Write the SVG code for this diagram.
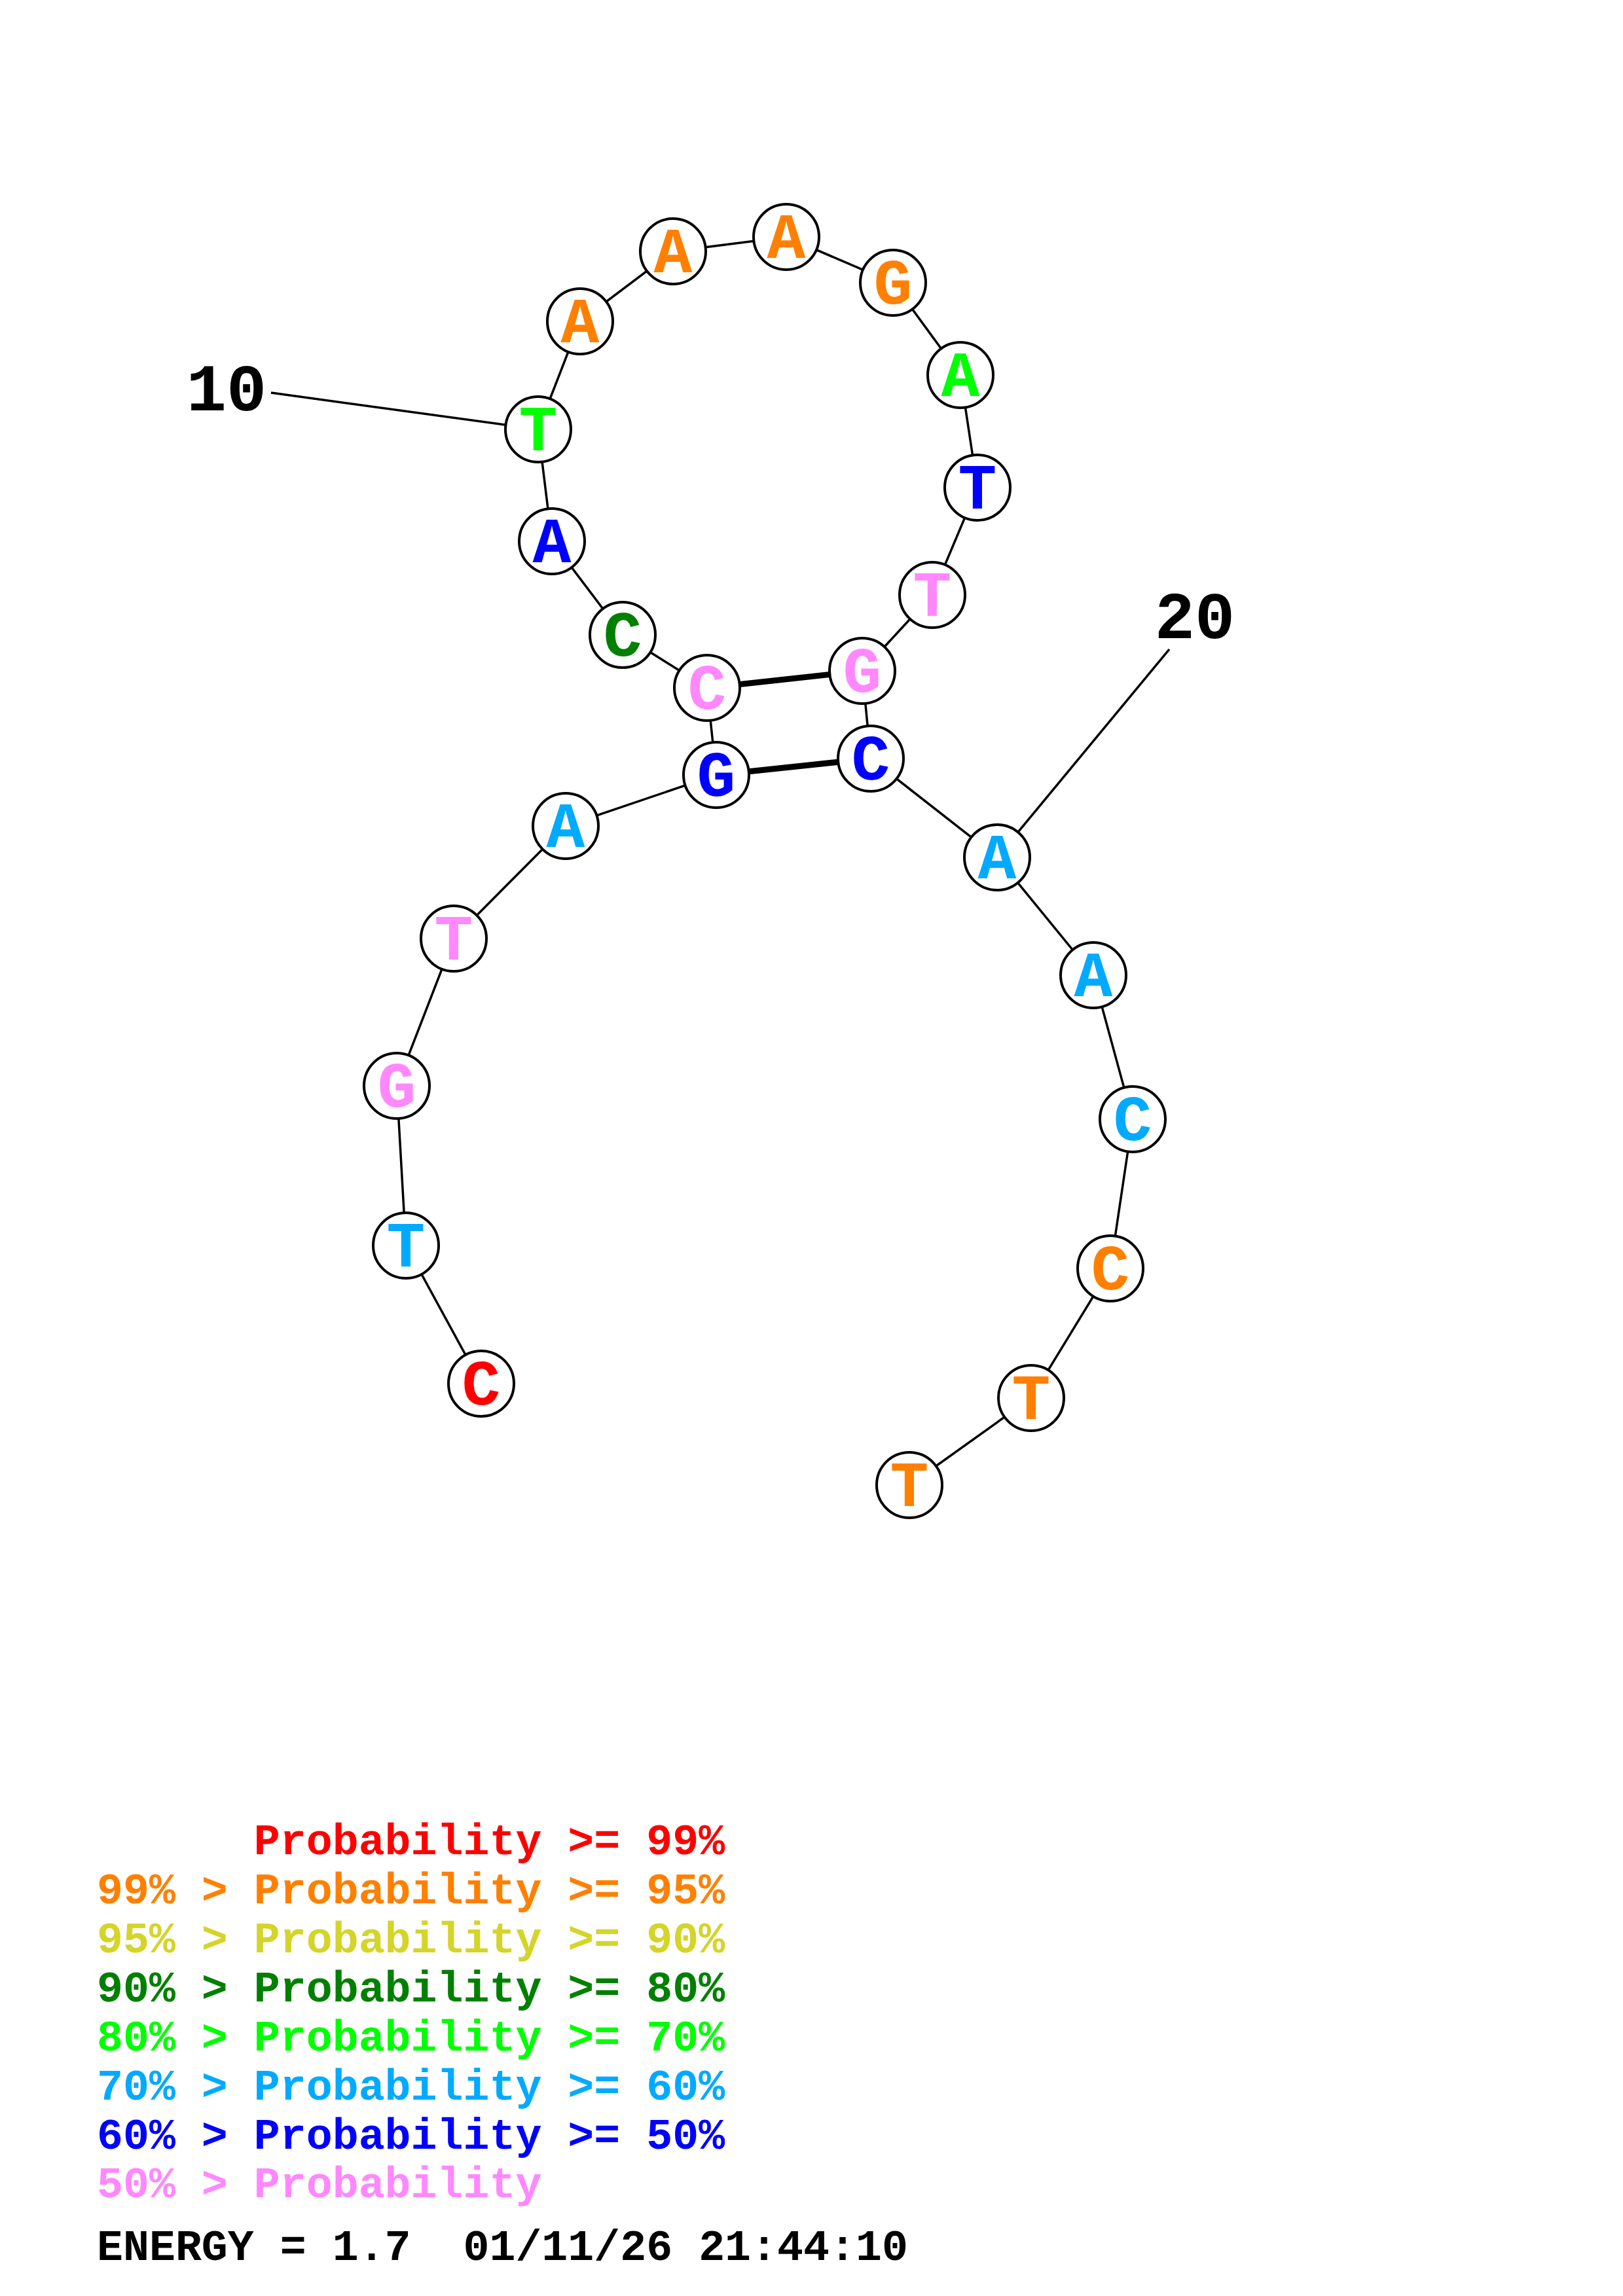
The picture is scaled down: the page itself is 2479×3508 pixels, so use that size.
<svg xmlns="http://www.w3.org/2000/svg" width="2479" height="3508" viewBox="0 0 2479 3508">
<style>
.bg{fill:#fff}
.bb{stroke:#000;stroke-width:3.5;fill:none}
.bp{stroke:#000;stroke-width:9;fill:none}
.n circle{fill:#fff;stroke:#000;stroke-width:4}
.n text{font-family:"Liberation Mono","Courier New",monospace;font-weight:bold;font-size:98px;text-anchor:middle}
.lab{font-family:"Liberation Mono","Courier New",monospace;font-weight:bold;font-size:102px;text-anchor:middle;fill:#000}
.leg text{font-family:"Liberation Mono","Courier New",monospace;font-weight:bold;font-size:66.6px;white-space:pre}
.c1{fill:#FF0000}.c2{fill:#FF8000}.c3{fill:#D4D42A}.c4{fill:#008000}.c5{fill:#00FF00}.c6{fill:#00AAFF}.c7{fill:#0000FF}.c8{fill:#FF88FF}.c0{fill:#000}
</style>
<rect class="bg" x="0" y="0" width="2479" height="3508"/>
<g id="connectors">
<polyline class="bb" points="735,2114 620,1903 606,1659 693,1434 864,1262 1094,1184 1080,1051 951,970 843,827 822,656 886,491 1028,384 1201,362 1364,432 1467,573 1493,745 1424,909 1317,1025 1330,1159 1523,1310 1670,1490 1730,1710 1696,1938 1575,2136 1389,2269"/>
<line class="bp" x1="1080" y1="1051" x2="1317" y2="1025"/>
<line class="bp" x1="1094" y1="1184" x2="1330" y2="1159"/>
<line class="bb" x1="414" y1="600" x2="822" y2="656"/>
<line class="bb" x1="1786" y1="992" x2="1523" y2="1310"/>
</g>
<g id="labels">
<text class="lab" x="346" y="627">10</text>
<text class="lab" x="1825" y="975">20</text>
</g>
<g id="n1" class="n"><circle cx="735" cy="2114" r="50"/><text class="c1" x="735" y="2146">C</text></g>
<g id="n2" class="n"><circle cx="620" cy="1903" r="50"/><text class="c6" x="620" y="1935">T</text></g>
<g id="n3" class="n"><circle cx="606" cy="1659" r="50"/><text class="c8" x="606" y="1691">G</text></g>
<g id="n4" class="n"><circle cx="693" cy="1434" r="50"/><text class="c8" x="693" y="1466">T</text></g>
<g id="n5" class="n"><circle cx="864" cy="1262" r="50"/><text class="c6" x="864" y="1294">A</text></g>
<g id="n6" class="n"><circle cx="1094" cy="1184" r="50"/><text class="c7" x="1094" y="1216">G</text></g>
<g id="n7" class="n"><circle cx="1080" cy="1051" r="50"/><text class="c8" x="1080" y="1083">C</text></g>
<g id="n8" class="n"><circle cx="951" cy="970" r="50"/><text class="c4" x="951" y="1002">C</text></g>
<g id="n9" class="n"><circle cx="843" cy="827" r="50"/><text class="c7" x="843" y="859">A</text></g>
<g id="n10" class="n"><circle cx="822" cy="656" r="50"/><text class="c5" x="822" y="688">T</text></g>
<g id="n11" class="n"><circle cx="886" cy="491" r="50"/><text class="c2" x="886" y="523">A</text></g>
<g id="n12" class="n"><circle cx="1028" cy="384" r="50"/><text class="c2" x="1028" y="416">A</text></g>
<g id="n13" class="n"><circle cx="1201" cy="362" r="50"/><text class="c2" x="1201" y="394">A</text></g>
<g id="n14" class="n"><circle cx="1364" cy="432" r="50"/><text class="c2" x="1364" y="464">G</text></g>
<g id="n15" class="n"><circle cx="1467" cy="573" r="50"/><text class="c5" x="1467" y="605">A</text></g>
<g id="n16" class="n"><circle cx="1493" cy="745" r="50"/><text class="c7" x="1493" y="777">T</text></g>
<g id="n17" class="n"><circle cx="1424" cy="909" r="50"/><text class="c8" x="1424" y="941">T</text></g>
<g id="n18" class="n"><circle cx="1317" cy="1025" r="50"/><text class="c8" x="1317" y="1057">G</text></g>
<g id="n19" class="n"><circle cx="1330" cy="1159" r="50"/><text class="c7" x="1330" y="1191">C</text></g>
<g id="n20" class="n"><circle cx="1523" cy="1310" r="50"/><text class="c6" x="1523" y="1342">A</text></g>
<g id="n21" class="n"><circle cx="1670" cy="1490" r="50"/><text class="c6" x="1670" y="1522">A</text></g>
<g id="n22" class="n"><circle cx="1730" cy="1710" r="50"/><text class="c6" x="1730" y="1742">C</text></g>
<g id="n23" class="n"><circle cx="1696" cy="1938" r="50"/><text class="c2" x="1696" y="1970">C</text></g>
<g id="n24" class="n"><circle cx="1575" cy="2136" r="50"/><text class="c2" x="1575" y="2168">T</text></g>
<g id="n25" class="n"><circle cx="1389" cy="2269" r="50"/><text class="c2" x="1389" y="2301">T</text></g>
<g id="legend" class="leg">
<text class="c1" x="148" y="2833" xml:space="preserve">      Probability &gt;= 99%</text>
<text class="c2" x="148" y="2908">99% &gt; Probability &gt;= 95%</text>
<text class="c3" x="148" y="2983">95% &gt; Probability &gt;= 90%</text>
<text class="c4" x="148" y="3058">90% &gt; Probability &gt;= 80%</text>
<text class="c5" x="148" y="3133">80% &gt; Probability &gt;= 70%</text>
<text class="c6" x="148" y="3208">70% &gt; Probability &gt;= 60%</text>
<text class="c7" x="148" y="3283">60% &gt; Probability &gt;= 50%</text>
<text class="c8" x="148" y="3357">50% &gt; Probability</text>
<text class="c0" x="148" y="3453" xml:space="preserve">ENERGY = 1.7  01/11/26 21:44:10</text>
</g>
</svg>
